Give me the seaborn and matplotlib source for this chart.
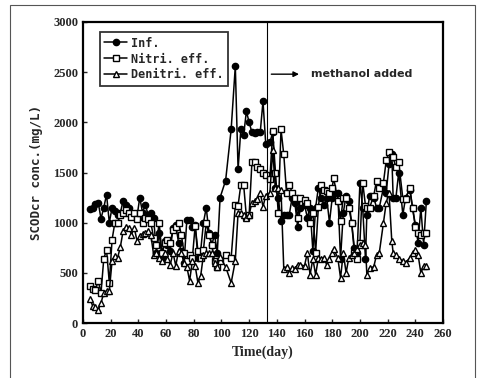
import matplotlib
matplotlib.use("Agg")
import matplotlib.pyplot as plt
import seaborn as sns
import pandas as pd
from matplotlib.patches import Rectangle

days = [5, 7, 9, 11, 13, 15, 17, 19, 21, 23, 25, 27, 29, 31, 33, 35, 37, 39, 41, 43,
        45, 47, 49, 51, 53, 55, 57, 59, 61, 63, 65, 67, 69, 71, 73, 75, 77, 79, 81, 83,
        85, 87, 89, 91, 93, 95, 97, 99, 103, 107, 110, 112, 114, 116, 118, 120, 122, 124,
        126, 128, 130, 132, 135, 137, 139, 141, 143, 145, 147,
        149, 151, 153, 155, 157, 160, 162, 164, 166, 168, 170, 172, 174, 176, 178, 180,
        181, 184, 186, 188, 190, 192, 194, 196, 198, 200, 202, 204, 205, 207, 210, 212,
        214, 217, 219, 221, 223, 224, 226, 228, 231, 233, 236, 238, 240, 242, 244, 246, 248]

inf = [1140, 1150, 1190, 1200, 1040, 1150, 1280, 1000, 1150, 1120, 1080, 1100, 1220, 1180, 1150, 1100, 1080, 1060, 1250, 1100,
       1180, 1080, 1100, 1050, 700, 900, 650, 820, 780, 720, 950, 980, 800, 720, 600, 1030, 1030, 960, 980, 650,
       720, 1000, 1150, 900, 780, 880, 700, 1250, 1420, 1930, 2560, 1530, 1930, 1870, 2110, 2000, 1900, 1890,
       1900, 1900, 2210, 1780, 1800, 1900, 1350, 1250, 1020, 1080, 1080,
       1080, 1250, 1200, 960, 1150, 1180, 1050, 1150, 720, 1150, 1350, 1250, 1180, 1250, 1000, 1250,
       1300, 1300, 640, 1100, 1270, 1220, 1000, 750, 700, 1400, 1150, 640, 1080, 1270, 1250, 1150,
       1150, 1350, 1300, 1580, 1680, 1250, 1250, 1500, 1080, 1250, 1330, 1150, 980, 800, 1150, 780, 1220]

nitri = [370, 340, 330, 420, 300, 640, 730, 400, 830, 1000, 1000, 1080, 1100, 1130, 1100, 1060, 1100, 1040, 1100, 1000,
         1050, 1040, 1000, 850, 780, 1000, 700, 800, 830, 800, 930, 960, 1000, 880, 700, 620, 680, 650, 970, 720,
         650, 730, 1000, 880, 780, 620, 560, 620, 680, 650, 1180, 1170, 1380, 1380, 1060, 1080, 1600, 1600,
         1550, 1530, 1500, 1480, 1440, 1910, 1500, 1100, 1930, 1680, 1300,
         1380, 1300, 1250, 1050, 1250, 1230, 1200, 1000, 1100, 700, 1160, 1380, 1330, 1320, 1300, 1350,
         1450, 1220, 1020, 1250, 1250, 1150, 1000, 700, 640, 800, 1400, 1170, 1150, 1150, 1270, 1420,
         1350, 1400, 1620, 1700, 1650, 1650, 1550, 1600, 1240, 1240, 1350, 1150, 960, 900, 880, 900, 900]

denitri = [240, 170, 160, 130, 200, 300, 320, 320, 620, 670, 650, 760, 920, 960, 950, 880, 950, 820, 870, 890,
           900, 920, 880, 680, 700, 650, 620, 700, 640, 580, 700, 570, 720, 700, 600, 560, 420, 620, 570, 400,
           470, 680, 700, 700, 700, 600, 560, 660, 560, 400, 620, 1100, 1100, 1080, 1050, 1080, 1200, 1220,
           1240, 1300, 1160, 1270, 1300, 1720, 1350, 1350, 1330, 540, 560,
           500, 550, 540, 580, 580, 570, 700, 480, 640, 480, 650, 640, 650, 580, 640, 700,
           740, 650, 450, 700, 500, 650, 680, 700, 740, 780, 800, 780, 480, 550, 560, 680,
           700, 1000, 1200, 1300, 820, 700, 680, 640, 620, 600, 650, 700, 730, 680, 500, 570, 570]

labels = ["Inf.", "Nitri. eff.", "Denitri. eff."]

sns.set_style("ticks")
plt.rcParams['font.family'] = ['Liberation Serif', 'DejaVu Serif']

fig = plt.figure(figsize=(4.81, 3.78), dpi=100)
fig.patch.set_facecolor("white")
ax = fig.add_axes([83 / 481, 55 / 378, 360 / 481, 301 / 378])

common = dict(color="black", linewidth=1.1, markersize=4.5, markeredgewidth=1.0, ax=ax)
sns.lineplot(x=days, y=inf, marker="o", markerfacecolor="black", markeredgecolor="black",
             label=labels[0], **common)
sns.lineplot(x=days, y=nitri, marker="s", markerfacecolor="white", markeredgecolor="black",
             label=labels[1], **common)
sns.lineplot(x=days, y=denitri, marker="^", markerfacecolor="white", markeredgecolor="black",
             label=labels[2], **common)

ax.set_xlim(0, 260)
ax.set_ylim(0, 3000)
ax.set_xticks(range(0, 261, 20))
ax.set_yticks(range(0, 3001, 500))
ax.tick_params(direction="in", length=3, width=1, labelsize=9)
for lab in ax.get_xticklabels() + ax.get_yticklabels():
    lab.set_fontweight("bold")
for s in ax.spines.values():
    s.set_linewidth(1.6)
    s.set_color("black")
    s.set_visible(True)

ax.set_xlabel("Time(day)", fontsize=10, fontweight="bold", labelpad=4)
ax.set_ylabel("SCODcr conc.(mg/L)", fontsize=9, fontweight="bold", labelpad=7,
              family=['DejaVu Sans Mono', 'DejaVu Sans'])

ax.axvline(133, color="black", linewidth=0.8)
ax.annotate("", xy=(158, 2480), xytext=(134, 2480),
            arrowprops=dict(arrowstyle="-|>", color="black", lw=1.0, mutation_scale=8))
ax.text(165, 2480, "methanol added", fontsize=8, va="center", ha="left", fontweight="bold",
        family=['DejaVu Sans', 'DejaVu Sans'])

leg = ax.legend(loc="upper left", frameon=True, fancybox=False,
                handlelength=2.0, handletextpad=0.3, borderpad=0.35, labelspacing=0.25,
                prop={'family': ['DejaVu Sans Mono'], 'size': 8.5, 'weight': 'bold'},
                bbox_to_anchor=(0.03, 0.985))
leg.get_frame().set_edgecolor("black")
leg.get_frame().set_linewidth(1.3)

fig.add_artist(Rectangle((10 / 481, -0.01), 465 / 481, 1 - 5 / 378 + 0.01,
                         transform=fig.transFigure, fill=False, edgecolor="#555555", linewidth=0.8))

fig.savefig("out.png", dpi=100)
